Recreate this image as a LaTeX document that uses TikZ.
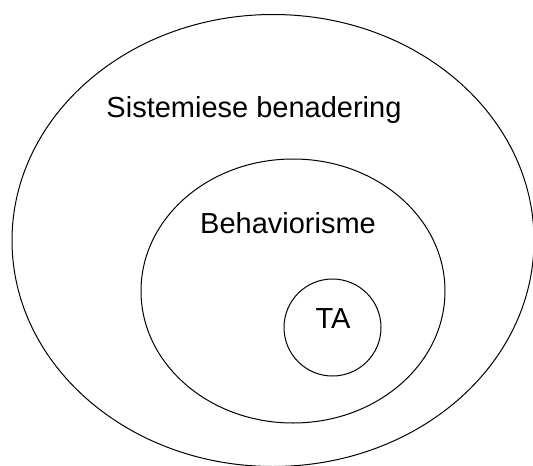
\documentclass[tikz,border=0pt]{standalone}
\usepackage{fontspec}
\setmainfont{Liberation Sans}
\usepackage{tikz}
\usetikzlibrary{scopes}

\begin{document}
\begin{tikzpicture}[x=1pt,y=-1pt,line width=1pt,
	lbl/.style={anchor=base,inner sep=0pt,font=\fontsize{29}{34}\selectfont}]
			\useasboundingbox (0,0) rectangle (533,466);
			\draw (273,240.5) ellipse (261 and 226);
			\draw (293,291) ellipse (152 and 132);
			\draw (332.5,327.5) circle (48.5);
			\node[lbl] (sist) at (254,117) {Sistemiese benadering};
			\node[lbl] (behav) at (288,233) {Behaviorisme};
			\node[lbl] (ta) at (333,328) {TA};
		\end{tikzpicture}
\end{document}
